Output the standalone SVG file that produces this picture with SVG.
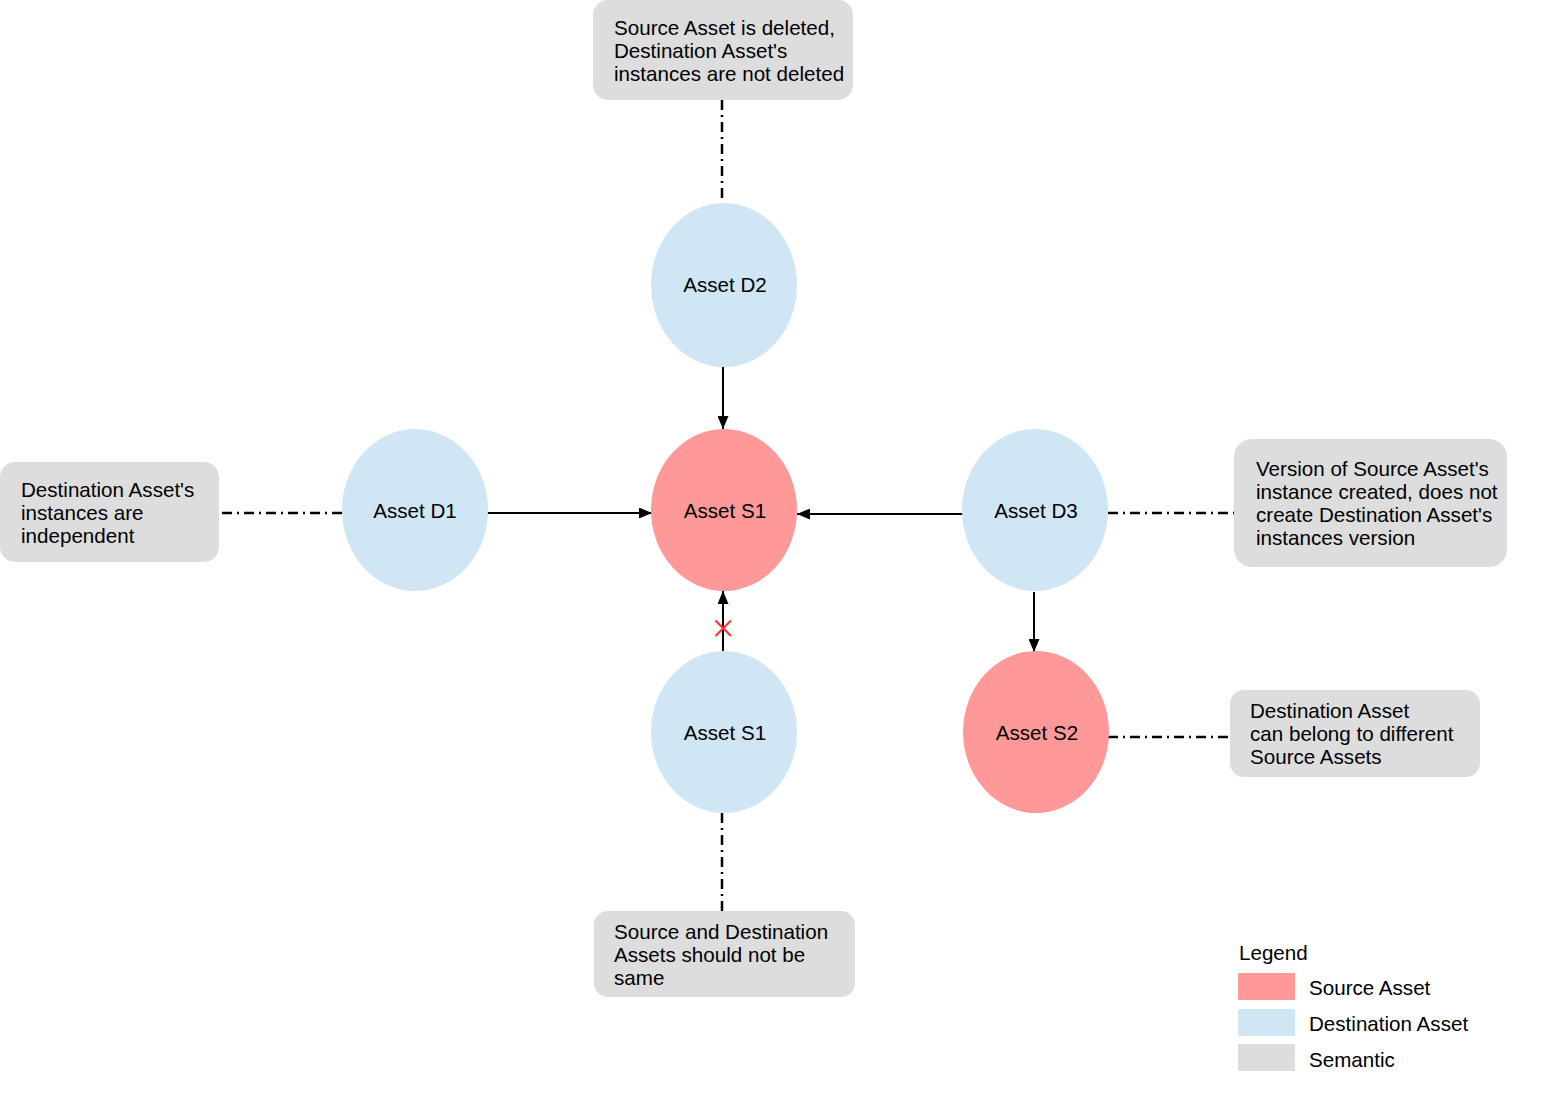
<svg xmlns="http://www.w3.org/2000/svg" width="1556" height="1097" viewBox="0 0 1556 1097">
<defs>
<marker id="arr" markerUnits="userSpaceOnUse" markerWidth="13" markerHeight="11" refX="13" refY="5.5" orient="auto">
<path d="M0,0 L13,5.5 L0,11 z" fill="#000"/>
</marker>
<style>
text{font-family:"Liberation Sans",Arial,sans-serif;font-size:20.6px;fill:#000}
.src{fill:#FF9999}
.dst{fill:#D0E6F4}
.sem{fill:#DDDDDD}
.arrow{stroke:#000;stroke-width:2;fill:none;marker-end:url(#arr)}
.dd{stroke:#000;stroke-width:2.5;fill:none;stroke-dasharray:10 5 2 5}
.lbl{text-anchor:middle}
</style>
</defs>
<rect width="1556" height="1097" fill="#fff"/>
<g id="connectors">
<line class="arrow" x1="723" y1="367" x2="723" y2="429"/>
<line class="arrow" x1="487" y1="513" x2="652" y2="513"/>
<line class="arrow" x1="963" y1="514" x2="797" y2="514"/>
<line class="arrow" x1="1034" y1="592" x2="1034" y2="652"/>
<line class="arrow" x1="723" y1="656" x2="723" y2="591"/>
<g id="x-mark" stroke="#FF3333" stroke-width="2.2">
<line x1="715.5" y1="620.5" x2="731" y2="636"/>
<line x1="731" y1="620.5" x2="715.5" y2="636"/>
</g>
<line class="dd" x1="722" y1="100" x2="722" y2="203"/>
<line class="dd" x1="222" y1="513" x2="347" y2="513"/>
<line class="dd" x1="1108" y1="513" x2="1234" y2="513"/>
<line class="dd" x1="1108" y1="737" x2="1229" y2="737"/>
<line class="dd" x1="722" y1="813" x2="722" y2="911"/>
</g>
<g id="node-d2"><ellipse class="dst" cx="724" cy="285" rx="73" ry="82"/><text class="lbl" x="725" y="292">Asset D2</text></g>
<g id="node-s1"><ellipse class="src" cx="724" cy="510" rx="73" ry="81"/><text class="lbl" x="725" y="518">Asset S1</text></g>
<g id="node-d1"><ellipse class="dst" cx="415" cy="510" rx="73" ry="81"/><text class="lbl" x="415" y="518">Asset D1</text></g>
<g id="node-d3"><ellipse class="dst" cx="1035" cy="510" rx="73" ry="81"/><text class="lbl" x="1036" y="518">Asset D3</text></g>
<g id="node-s2"><ellipse class="src" cx="1036" cy="732" rx="73" ry="81"/><text class="lbl" x="1037" y="740">Asset S2</text></g>
<g id="node-s1b"><ellipse class="dst" cx="724" cy="732" rx="73" ry="81"/><text class="lbl" x="725" y="740">Asset S1</text></g>
<g id="note-top"><rect class="sem" x="593" y="0" width="260" height="100" rx="15"/>
<text x="614" y="35">Source Asset is deleted,</text><text x="614" y="58">Destination Asset's</text><text x="614" y="81">instances are not deleted</text></g>
<g id="note-left"><rect class="sem" x="0" y="462" width="219" height="100" rx="15"/>
<text x="21" y="497">Destination Asset's</text><text x="21" y="520">instances are</text><text x="21" y="543">independent</text></g>
<g id="note-right"><rect class="sem" x="1234" y="439" width="273" height="128" rx="18"/>
<text x="1256" y="476">Version of Source Asset's</text><text x="1256" y="499">instance created, does not</text><text x="1256" y="522">create Destination Asset's</text><text x="1256" y="545">instances version</text></g>
<g id="note-s2"><rect class="sem" x="1230" y="690" width="250" height="87" rx="14"/>
<text x="1250" y="718">Destination Asset</text><text x="1250" y="741">can belong to different</text><text x="1250" y="764">Source Assets</text></g>
<g id="note-bottom"><rect class="sem" x="594" y="911" width="261" height="86" rx="14"/>
<text x="614" y="939">Source and Destination</text><text x="614" y="962">Assets should not be</text><text x="614" y="985">same</text></g>
<g id="legend">
<text x="1239" y="960">Legend</text>
<rect class="src" x="1238" y="973" width="57" height="27" rx="1"/>
<rect class="dst" x="1238" y="1009" width="57" height="27" rx="1"/>
<rect class="sem" x="1238" y="1044" width="57" height="27" rx="1"/>
<text x="1309" y="995">Source Asset</text>
<text x="1309" y="1031">Destination Asset</text>
<text x="1309" y="1067">Semantic</text>
</g>
</svg>
